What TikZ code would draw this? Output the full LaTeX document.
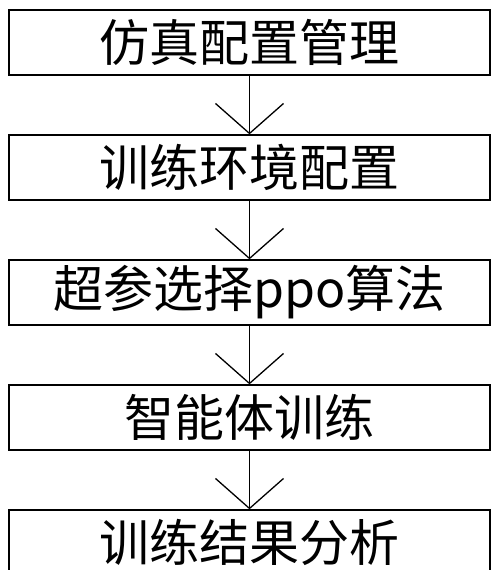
\documentclass[tikz,border=0pt]{standalone}
\usepackage{fontspec}
\newfontfamily\cjk{Noto Sans CJK SC}
\usetikzlibrary{arrows.meta,positioning}

\begin{document}
\begin{tikzpicture}[x=1pt,y=1pt,>={Straight Barb[length=30pt,width=68pt,line width=1.3pt]},
  line width=1.3pt,
  step box/.style={draw,rectangle,minimum width=481pt,minimum height=65pt,inner sep=0pt,
    font=\cjk\fontsize{50}{60}\selectfont}]
          \clip (0,0) rectangle (500,570);
          \node[step box] at (249.5,527.5) (sim) {仿真配置管理};
          \node[step box] at (249.5,402.5) (env) {训练环境配置};
          \node[step box] at (249.5,277.5) (ppo) {超参选择ppo算法};
          \node[step box] at (249.5,152.5) (train) {智能体训练};
          \node[step box] at (249.5,27.5) (res) {训练结果分析};
          \draw[->] (sim)--(env);
          \draw[->] (env)--(ppo);
          \draw[->] (ppo)--(train);
          \draw[->] (train)--(res);
        \end{tikzpicture}
\end{document}
